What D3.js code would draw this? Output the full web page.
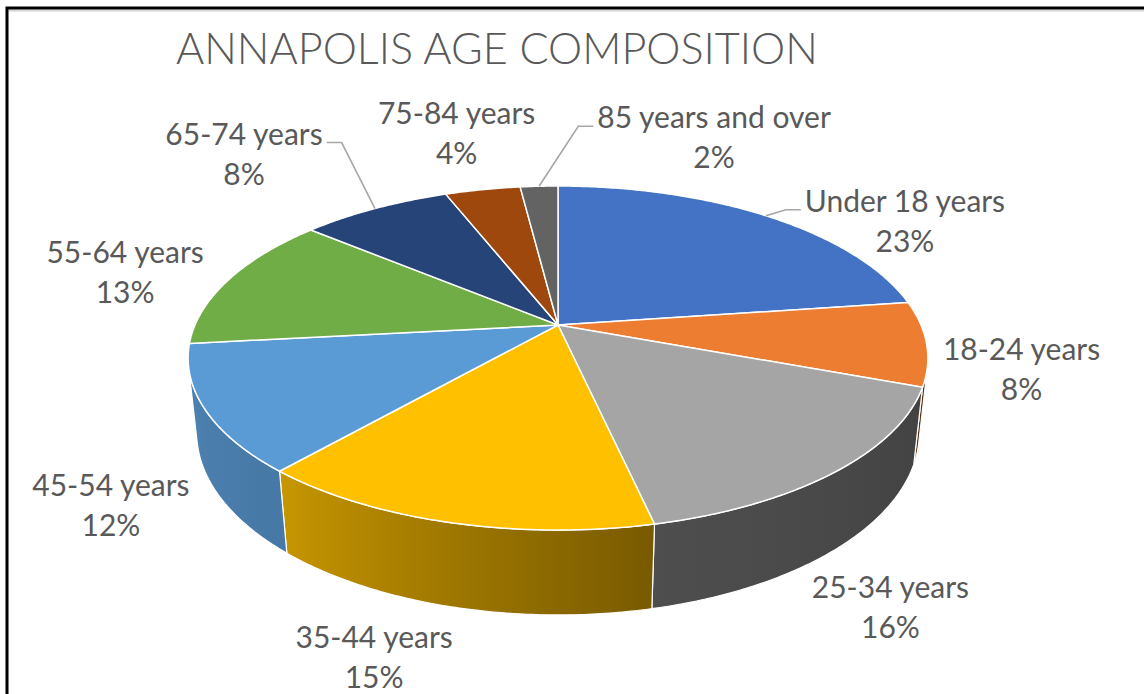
<!DOCTYPE html>
<html>
<head>
<meta charset="utf-8">
<script src="https://cdn.jsdelivr.net/npm/d3@7"></script>
<style>
  html, body { margin: 0; padding: 0; background: #fff; overflow: hidden; }
</style>
</head>
<body>
<div id="chart"></div>
<script>
// data
const title = 'ANNAPOLIS AGE COMPOSITION'
const categories = ['Under 18 years', '18-24 years', '25-34 years', '35-44 years', '45-54 years',
  '55-64 years', '65-74 years', '75-84 years', '85 years and over']
const shares = [23, 8, 16, 15, 12, 13, 8, 4, 2]
const colors = ['#4472c4', '#ed7d31', '#a5a5a5', '#ffc000', '#5b9bd5', '#70ad47', '#264478', '#9e480e', '#636363']

// label placement, relative to the rim point at the middle of each slice
const labelShift = [[139, -4], [95, 17], [54, 127], [-74, 126], [-94, 87], [-104, -16], [-131, -64], [-26, -66], [175, -58]]
const hasLeader = [true, false, false, false, false, false, true, false, true]

const width = 1144, height = 694
const cx = 558, cy = 325
const rx = 363            // horizontal scale of the top face on screen
const tilt = Math.asin(0.4564)
const dist = 4.634        // camera distance, in pie radii
const thick = 0.233       // wall height, in pie radii
const focal = rx * dist
const textColor = '#595959'
const font = 'Lato, "Open Sans", sans-serif'

const svg = d3.select('#chart').append('svg')
  .attr('width', width).attr('height', height)
  .attr('viewBox', `0 0 ${width} ${height}`)

function project(a, r, h) {
  const X = r * Math.sin(a), Z = r * Math.cos(a)
  const up = h * Math.cos(tilt) + Z * Math.sin(tilt)
  const depth = dist + Z * Math.cos(tilt) - h * Math.sin(tilt)
  return [cx + focal * X / depth, cy - focal * up / depth]
}

function arcPoints(a0, a1, h) {
  const n = Math.max(2, Math.ceil(Math.abs(a1 - a0) / 0.01))
  return d3.range(n + 1).map(i => project(a0 + (a1 - a0) * i / n, 1, h))
}

const line = d3.line()
const rad = d => d * Math.PI / 180

const slices = d3.pie().sort(null).value(d => d)(shares)
const total = d3.sum(shares)

// side walls that face the camera
const seeFrom = Math.acos(-1 / (dist * Math.cos(tilt)))
const seeTo = 2 * Math.PI - seeFrom
const light = d3.scaleLinear()
  .domain([rad(105), rad(167.5), rad(221), rad(257)])
  .range([0.39, 0.47, 0.78, 0.84])
  .clamp(true)
const shade = (c, k) => { const q = d3.rgb(c); return d3.rgb(q.r * k, q.g * k, q.b * k).formatHex() }

const defs = svg.append('defs')
const walls = svg.append('g')

slices.forEach((s, i) => {
  const a = Math.max(s.startAngle, seeFrom)
  const b = Math.min(s.endAngle, seeTo)
  if (b <= a) return
  const xa = project(a, 1, 0)[0], xb = project(b, 1, 0)[0]
  const grad = defs.append('linearGradient')
    .attr('id', 'wall' + i)
    .attr('gradientUnits', 'userSpaceOnUse')
    .attr('x1', xb).attr('x2', xa).attr('y1', 0).attr('y2', 0)
  d3.range(7).forEach(k => {
    const t = b + (a - b) * k / 6
    const x = project(t, 1, 0)[0]
    grad.append('stop')
      .attr('offset', xa === xb ? 0 : (x - xb) / (xa - xb))
      .attr('stop-color', shade(colors[i], light(t)))
  })
  const pts = arcPoints(a, b, 0).concat(arcPoints(b, a, -thick))
  walls.append('path')
    .attr('d', line(pts) + 'Z')
    .attr('fill', `url(#wall${i})`)
    .attr('stroke', '#fff')
    .attr('stroke-width', 1.2)
    .attr('stroke-linejoin', 'round')
})

// top faces
svg.append('g')
  .selectAll('path')
  .data(slices)
  .join('path')
  .attr('d', s => line([project(0, 0, 0)].concat(arcPoints(s.startAngle, s.endAngle, 0))) + 'Z')
  .attr('fill', (s, i) => colors[i])
  .attr('stroke', '#fff')
  .attr('stroke-width', 1.5)
  .attr('stroke-linejoin', 'round')

// data labels
const labels = svg.append('g')
  .attr('font-family', font)
  .attr('font-size', 30)
  .attr('fill', textColor)
  .attr('text-anchor', 'middle')

slices.forEach((s, i) => {
  const mid = (s.startAngle + s.endAngle) / 2
  const anchor = project(mid, 1, 0)
  const x = anchor[0] + labelShift[i][0]
  const y = anchor[1] + labelShift[i][1]
  const t = labels.append('text')
  const first = t.append('tspan').attr('x', x).attr('y', y).text(categories[i])
  t.append('tspan').attr('x', x).attr('y', y + 40).text(Math.round(s.value / total * 100) + '%')
  if (!hasLeader[i]) return
  const w = first.node().getComputedTextLength()
  const dir = anchor[0] < x ? -1 : 1
  const edge = x + dir * (w / 2 + 4)
  const ly = y - 2
  svg.append('path')
    .attr('d', line([[edge, ly], [edge + dir * 15, ly], anchor]))
    .attr('fill', 'none')
    .attr('stroke', '#a6a6a6')
    .attr('stroke-width', 1.6)
})

// title
const head = svg.append('text')
  .attr('x', 176).attr('y', 64)
  .attr('font-family', font)
  .attr('font-weight', 300)
  .attr('font-size', 44)
  .attr('fill', textColor)
  .text(title)
const tw = head.node().getComputedTextLength()
head.attr('font-size', 44 * 642 / tw)

// frame
svg.append('line')
  .attr('x1', 9).attr('x2', width).attr('y1', 10.5).attr('y2', 10.5)
  .attr('stroke', '#d4d4d4').attr('stroke-width', 2)
svg.append('rect')
  .attr('x', 7).attr('y', 8)
  .attr('width', width + 20).attr('height', height + 20)
  .attr('fill', 'none')
  .attr('stroke', '#000')
  .attr('stroke-width', 3)
</script>
</body>
</html>
